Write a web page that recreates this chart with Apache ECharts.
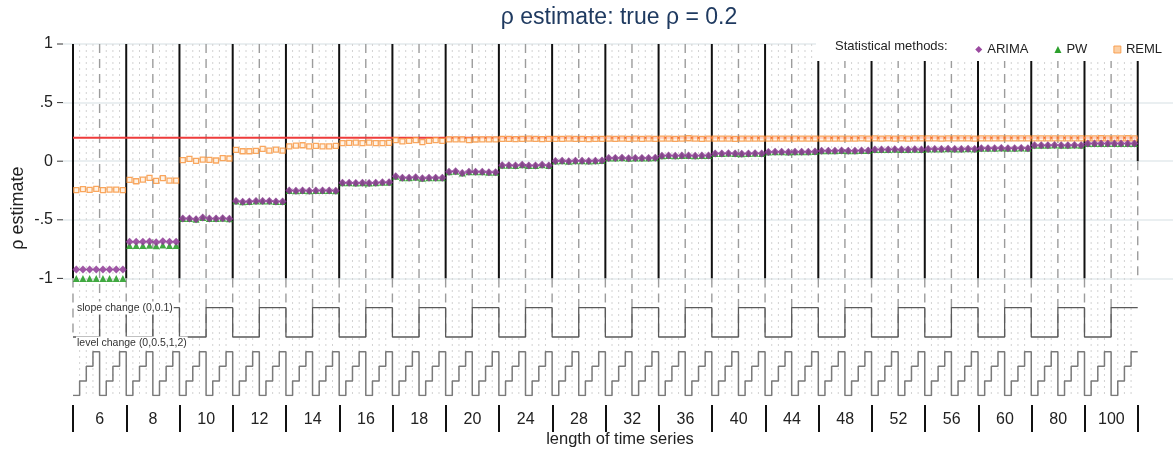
<!DOCTYPE html>
<html>
<head>
<meta charset="utf-8">
<script src="https://cdn.jsdelivr.net/npm/echarts@6/dist/echarts.min.js"></script>
<style>html,body{margin:0;padding:0;background:#fff}#c{width:1173px;height:452px}</style>
</head>
<body>
<div id="c"></div>
<script>
// ---- data ----
const lengths = [6, 8, 10, 12, 14, 16, 18, 20, 24, 28, 32, 36, 40, 44, 48, 52, 56, 60, 80, 100];
const slopeChange = ['0', '0.1'];
const levelChange = ['0', '0.5', '1', '2'];
const yTickLabels = ['1', '.5', '0', '-.5', '-1'];
const trueRho = 0.2;
const methods = ['ARIMA', 'PW', 'REML'];

const arima = [
  -0.925, -0.925, -0.925, -0.925, -0.925, -0.925, -0.925, -0.925,
  -0.688, -0.688, -0.688, -0.685, -0.692, -0.682, -0.688, -0.688,
  -0.489, -0.489, -0.495, -0.481, -0.489, -0.489, -0.486, -0.492,
  -0.340, -0.347, -0.344, -0.340, -0.340, -0.340, -0.344, -0.344,
  -0.250, -0.252, -0.250, -0.252, -0.250, -0.250, -0.250, -0.252,
  -0.184, -0.184, -0.186, -0.184, -0.186, -0.184, -0.180, -0.180,
  -0.129, -0.142, -0.142, -0.137, -0.146, -0.142, -0.142, -0.142,
  -0.091, -0.085, -0.100, -0.091, -0.091, -0.091, -0.094, -0.094,
  -0.034, -0.034, -0.037, -0.031, -0.037, -0.037, -0.031, -0.037,
   0.002,  0.003,  0.000,  0.004,  0.003,  0.002,  0.003,  0.005,
   0.028,  0.027,  0.029,  0.026,  0.028,  0.028,  0.027,  0.029,
   0.047,  0.048,  0.047,  0.049,  0.048,  0.047,  0.049,  0.048,
   0.066,  0.065,  0.067,  0.066,  0.064,  0.066,  0.067,  0.066,
   0.079,  0.080,  0.081,  0.079,  0.080,  0.081,  0.080,  0.082,
   0.089,  0.090,  0.089,  0.091,  0.090,  0.089,  0.091,  0.092,
   0.099,  0.100,  0.099,  0.101,  0.100,  0.100,  0.101,  0.100,
   0.104,  0.105,  0.104,  0.106,  0.105,  0.104,  0.106,  0.105,
   0.110,  0.111,  0.110,  0.112,  0.111,  0.110,  0.112,  0.111,
   0.136,  0.137,  0.136,  0.138,  0.137,  0.136,  0.138,  0.137,
   0.150,  0.151,  0.150,  0.152,  0.151,  0.150,  0.152,  0.151
];
const pw = [
  -1.000, -1.000, -1.000, -1.000, -1.000, -1.000, -1.000, -1.000,
  -0.720, -0.720, -0.720, -0.718, -0.722, -0.716, -0.720, -0.720,
  -0.489, -0.489, -0.495, -0.481, -0.489, -0.489, -0.486, -0.492,
  -0.340, -0.347, -0.344, -0.340, -0.340, -0.340, -0.344, -0.344,
  -0.250, -0.252, -0.250, -0.252, -0.250, -0.250, -0.250, -0.252,
  -0.184, -0.184, -0.186, -0.184, -0.186, -0.184, -0.180, -0.180,
  -0.129, -0.142, -0.142, -0.137, -0.146, -0.142, -0.142, -0.142,
  -0.091, -0.085, -0.100, -0.091, -0.091, -0.091, -0.094, -0.094,
  -0.034, -0.034, -0.037, -0.031, -0.037, -0.037, -0.031, -0.037,
   0.002,  0.003,  0.000,  0.004,  0.003,  0.002,  0.003,  0.005,
   0.028,  0.027,  0.029,  0.026,  0.028,  0.028,  0.027,  0.029,
   0.047,  0.048,  0.047,  0.049,  0.048,  0.047,  0.049,  0.048,
   0.066,  0.065,  0.067,  0.066,  0.064,  0.066,  0.067,  0.066,
   0.079,  0.080,  0.081,  0.079,  0.080,  0.081,  0.080,  0.082,
   0.089,  0.090,  0.089,  0.091,  0.090,  0.089,  0.091,  0.092,
   0.099,  0.100,  0.099,  0.101,  0.100,  0.100,  0.101,  0.100,
   0.104,  0.105,  0.104,  0.106,  0.105,  0.104,  0.106,  0.105,
   0.110,  0.111,  0.110,  0.112,  0.111,  0.110,  0.112,  0.111,
   0.136,  0.137,  0.136,  0.138,  0.137,  0.136,  0.138,  0.137,
   0.150,  0.151,  0.150,  0.152,  0.151,  0.150,  0.152,  0.151
];
const reml = [
  -0.247, -0.239, -0.245, -0.236, -0.247, -0.242, -0.242, -0.247,
  -0.159, -0.171, -0.157, -0.142, -0.168, -0.145, -0.165, -0.165,
   0.009,  0.020,  0.003,  0.014,  0.011,  0.006,  0.026,  0.023,
   0.096,  0.085,  0.085,  0.088,  0.105,  0.091,  0.099,  0.091,
   0.127,  0.133,  0.136,  0.127,  0.130,  0.127,  0.127,  0.130,
   0.154,  0.156,  0.159,  0.154,  0.159,  0.154,  0.154,  0.156,
   0.179,  0.170,  0.173,  0.179,  0.162,  0.173,  0.179,  0.173,
   0.187,  0.187,  0.187,  0.179,  0.185,  0.187,  0.187,  0.187,
   0.190,  0.191,  0.189,  0.190,  0.192,  0.190,  0.189,  0.191,
   0.191,  0.190,  0.192,  0.190,  0.191,  0.189,  0.191,  0.190,
   0.192,  0.191,  0.192,  0.190,  0.192,  0.191,  0.192,  0.191,
   0.192,  0.193,  0.191,  0.192,  0.196,  0.192,  0.191,  0.192,
   0.193,  0.192,  0.193,  0.191,  0.193,  0.192,  0.193,  0.192,
   0.193,  0.192,  0.193,  0.193,  0.192,  0.193,  0.192,  0.193,
   0.193,  0.193,  0.192,  0.193,  0.193,  0.193,  0.194,  0.193,
   0.194,  0.193,  0.194,  0.193,  0.194,  0.193,  0.194,  0.194,
   0.194,  0.194,  0.193,  0.194,  0.194,  0.194,  0.194,  0.193,
   0.194,  0.194,  0.195,  0.194,  0.194,  0.195,  0.194,  0.194,
   0.195,  0.195,  0.194,  0.195,  0.195,  0.195,  0.195,  0.195,
   0.195,  0.195,  0.196,  0.195,  0.195,  0.195,  0.196,  0.195
];

// ---- layout / derived ----
const perBlock = slopeChange.length * levelChange.length;
const nCells = lengths.length * perBlock;
const FONT = "'Liberation Sans', Arial, sans-serif";
const slopeY = s => -1.5 + s * 0.25;
const levelY = l => -2 + l * 0.125;

const pts = arr => arr.map((v, i) => [i + 0.5, v]);

const slopeData = [], levelData = [];
for (let i = 0; i <= nCells; i++) {
  const j = Math.min(i, nCells - 1);
  const s = Math.floor((j % perBlock) / levelChange.length);
  const l = j % levelChange.length;
  slopeData.push([i, slopeY(s)]);
  levelData.push([i, levelY(l)]);
}

// vertical guide segments: [x, yTop, yBottom, kind]
const vSeg = [];
for (let b = 0; b <= lengths.length; b++) {
  const x = b * perBlock;
  if (b < lengths.length) {
    vSeg.push([x, 1, -1, 0]);
    vSeg.push([x, -1, -1.5, 1]);
    vSeg.push([x + perBlock / 2, 1, -1.5, 1]);
    for (let k = 1; k < perBlock; k++) {
      if (k === perBlock / 2) continue;
      vSeg.push([x + k, 1, -2, 2]);
    }
  } else {
    vSeg.push([x, 1, 0, 0]);
    vSeg.push([x, 0, -1, 1]);
  }
}
const segStyles = [
  { stroke: '#111', lineWidth: 2 },
  { stroke: '#9c9c9c', lineWidth: 1.4, lineDash: [9, 6] },
  { stroke: '#d2d2d2', lineWidth: 1, lineDash: [2, 4] }
];

// y-axis tick marks (values of the labelled ticks)
const yTickVals = yTickLabels.map((t, k) => 1 - k * 0.5);

const XMIN = -1.5, XMAX = 165.3;

const chart = echarts.init(document.getElementById('c'), null, { renderer: 'canvas' });
chart.setOption({
  animation: false,
  textStyle: { fontFamily: FONT },
  grid: [
    { left: 63, right: 0, top: 44, height: 234.4 },
    { left: 63, right: 0, top: 44, height: 351.6 },
    { left: 73, right: 35, top: 380, height: 25 }
  ],
  xAxis: [
    { gridIndex: 0, type: 'value', min: XMIN, max: XMAX, show: false },
    { gridIndex: 1, type: 'value', min: XMIN, max: XMAX, show: false },
    {
      gridIndex: 2, type: 'category', data: lengths.map(String), boundaryGap: true,
      axisLine: { show: false },
      axisTick: { show: true, length: 27, lineStyle: { color: '#111', width: 2 } },
      axisLabel: { fontSize: 16, color: '#222', margin: 7, fontFamily: FONT }
    }
  ],
  yAxis: [
    {
      gridIndex: 0, type: 'value', min: -1, max: 1, interval: 0.5,
      axisLine: { show: false },
      axisTick: { show: false },
      axisLabel: {
        fontSize: 16, color: '#222', margin: 10, fontFamily: FONT,
        formatter: v => yTickLabels[Math.round((1 - v) / 0.5)]
      },
      splitLine: { show: true, lineStyle: { color: '#e3eaec', width: 1.5 } }
    },
    { gridIndex: 1, type: 'value', min: -2, max: 1, show: false },
    { gridIndex: 2, type: 'value', show: false }
  ],
  legend: {
    right: 6, top: 38, z: 20,
    itemWidth: 7, itemHeight: 7, itemGap: 26,
    textStyle: { fontSize: 13, color: '#222', fontFamily: FONT },
    data: [
      { name: 'ARIMA', icon: 'diamond', itemStyle: { color: '#9b4aa0', opacity: 1 } },
      { name: 'PW', icon: 'triangle', itemStyle: { color: '#2ca02c', opacity: 1 } },
      { name: 'REML', icon: 'rect', itemStyle: { color: '#fbc48f', borderColor: '#f7923a', borderWidth: 1 } }
    ]
  },
  graphic: [
    { type: 'text', x: 619, y: 18, z: 30,
      style: { text: 'ρ estimate: true ρ = 0.2', fontSize: 23, fill: '#1f3a60', textAlign: 'center', textVerticalAlign: 'middle', fontFamily: FONT } },
    { type: 'rect', z: 15, shape: { x: 816, y: 28, width: 357, height: 33 }, style: { fill: '#fff' } },
    { type: 'text', x: 835, y: 46, z: 30,
      style: { text: 'Statistical methods:', fontSize: 13, fill: '#222', textAlign: 'left', textVerticalAlign: 'middle', fontFamily: FONT } },
    { type: 'text', x: 18, y: 208, z: 30, rotation: Math.PI / 2,
      style: { text: 'ρ estimate', fontSize: 18, fill: '#222', textAlign: 'center', textVerticalAlign: 'middle', fontFamily: FONT } },
    { type: 'text', x: 620, y: 439, z: 30,
      style: { text: 'length of time series', fontSize: 16.5, fill: '#222', textAlign: 'center', textVerticalAlign: 'middle', fontFamily: FONT } },
    { type: 'text', x: 76, y: 308, z: 30,
      style: { text: 'slope change (0,0.1)', fontSize: 10.5, fill: '#333', textAlign: 'left', textVerticalAlign: 'middle', backgroundColor: '#fff', padding: [1, 1], fontFamily: FONT } },
    { type: 'text', x: 76, y: 343, z: 30,
      style: { text: 'level change (0,0.5,1,2)', fontSize: 10.5, fill: '#333', textAlign: 'left', textVerticalAlign: 'middle', backgroundColor: '#fff', padding: [1, 1], fontFamily: FONT } }
  ],
  series: [
    {
      type: 'custom', xAxisIndex: 0, yAxisIndex: 0, z: 2, silent: true, clip: false,
      data: yTickVals.map(v => [XMIN, v]),
      renderItem: (params, api) => {
        const p = api.coord([api.value(0), api.value(1)]);
        return { type: 'line', shape: { x1: p[0] - 6, y1: p[1], x2: p[0], y2: p[1] },
                 style: { stroke: '#333', lineWidth: 1 } };
      }
    },
    {
      type: 'custom', xAxisIndex: 1, yAxisIndex: 1, z: 1, silent: true,
      data: vSeg,
      renderItem: (params, api) => {
        const p1 = api.coord([api.value(0), api.value(1)]);
        const p2 = api.coord([api.value(0), api.value(2)]);
        const st = segStyles[api.value(3)];
        return { type: 'line', shape: { x1: p1[0], y1: p1[1], x2: p2[0], y2: p2[1] },
                 style: Object.assign({ fill: null }, st) };
      }
    },
    {
      type: 'line', xAxisIndex: 1, yAxisIndex: 1, z: 3, silent: true, symbol: 'none',
      data: [[0, trueRho], [nCells, trueRho]],
      lineStyle: { color: '#ee3b3b', width: 1.8 }
    },
    {
      type: 'line', xAxisIndex: 1, yAxisIndex: 1, z: 3, silent: true, symbol: 'none', step: 'end',
      data: slopeData, lineStyle: { color: '#5a5a5a', width: 1.3 }
    },
    {
      type: 'line', xAxisIndex: 1, yAxisIndex: 1, z: 3, silent: true, symbol: 'none', step: 'end',
      data: levelData, lineStyle: { color: '#7a7a7a', width: 1.5 }
    },
    {
      name: 'PW', type: 'scatter', xAxisIndex: 1, yAxisIndex: 1, z: 4,
      symbol: 'triangle', symbolSize: 7, data: pts(pw),
      itemStyle: { color: '#2ca02c', opacity: 0.9 }
    },
    {
      name: 'REML', type: 'scatter', xAxisIndex: 1, yAxisIndex: 1, z: 5,
      symbol: 'rect', symbolSize: 5, data: pts(reml),
      itemStyle: { color: '#fff0e0', borderColor: '#f7923a', borderWidth: 1.3 }
    },
    {
      name: 'ARIMA', type: 'scatter', xAxisIndex: 1, yAxisIndex: 1, z: 6,
      symbol: 'diamond', symbolSize: 8, data: pts(arima),
      itemStyle: { color: '#8e3a95', opacity: 0.85 }
    }
  ]
});
</script>
</body>
</html>
